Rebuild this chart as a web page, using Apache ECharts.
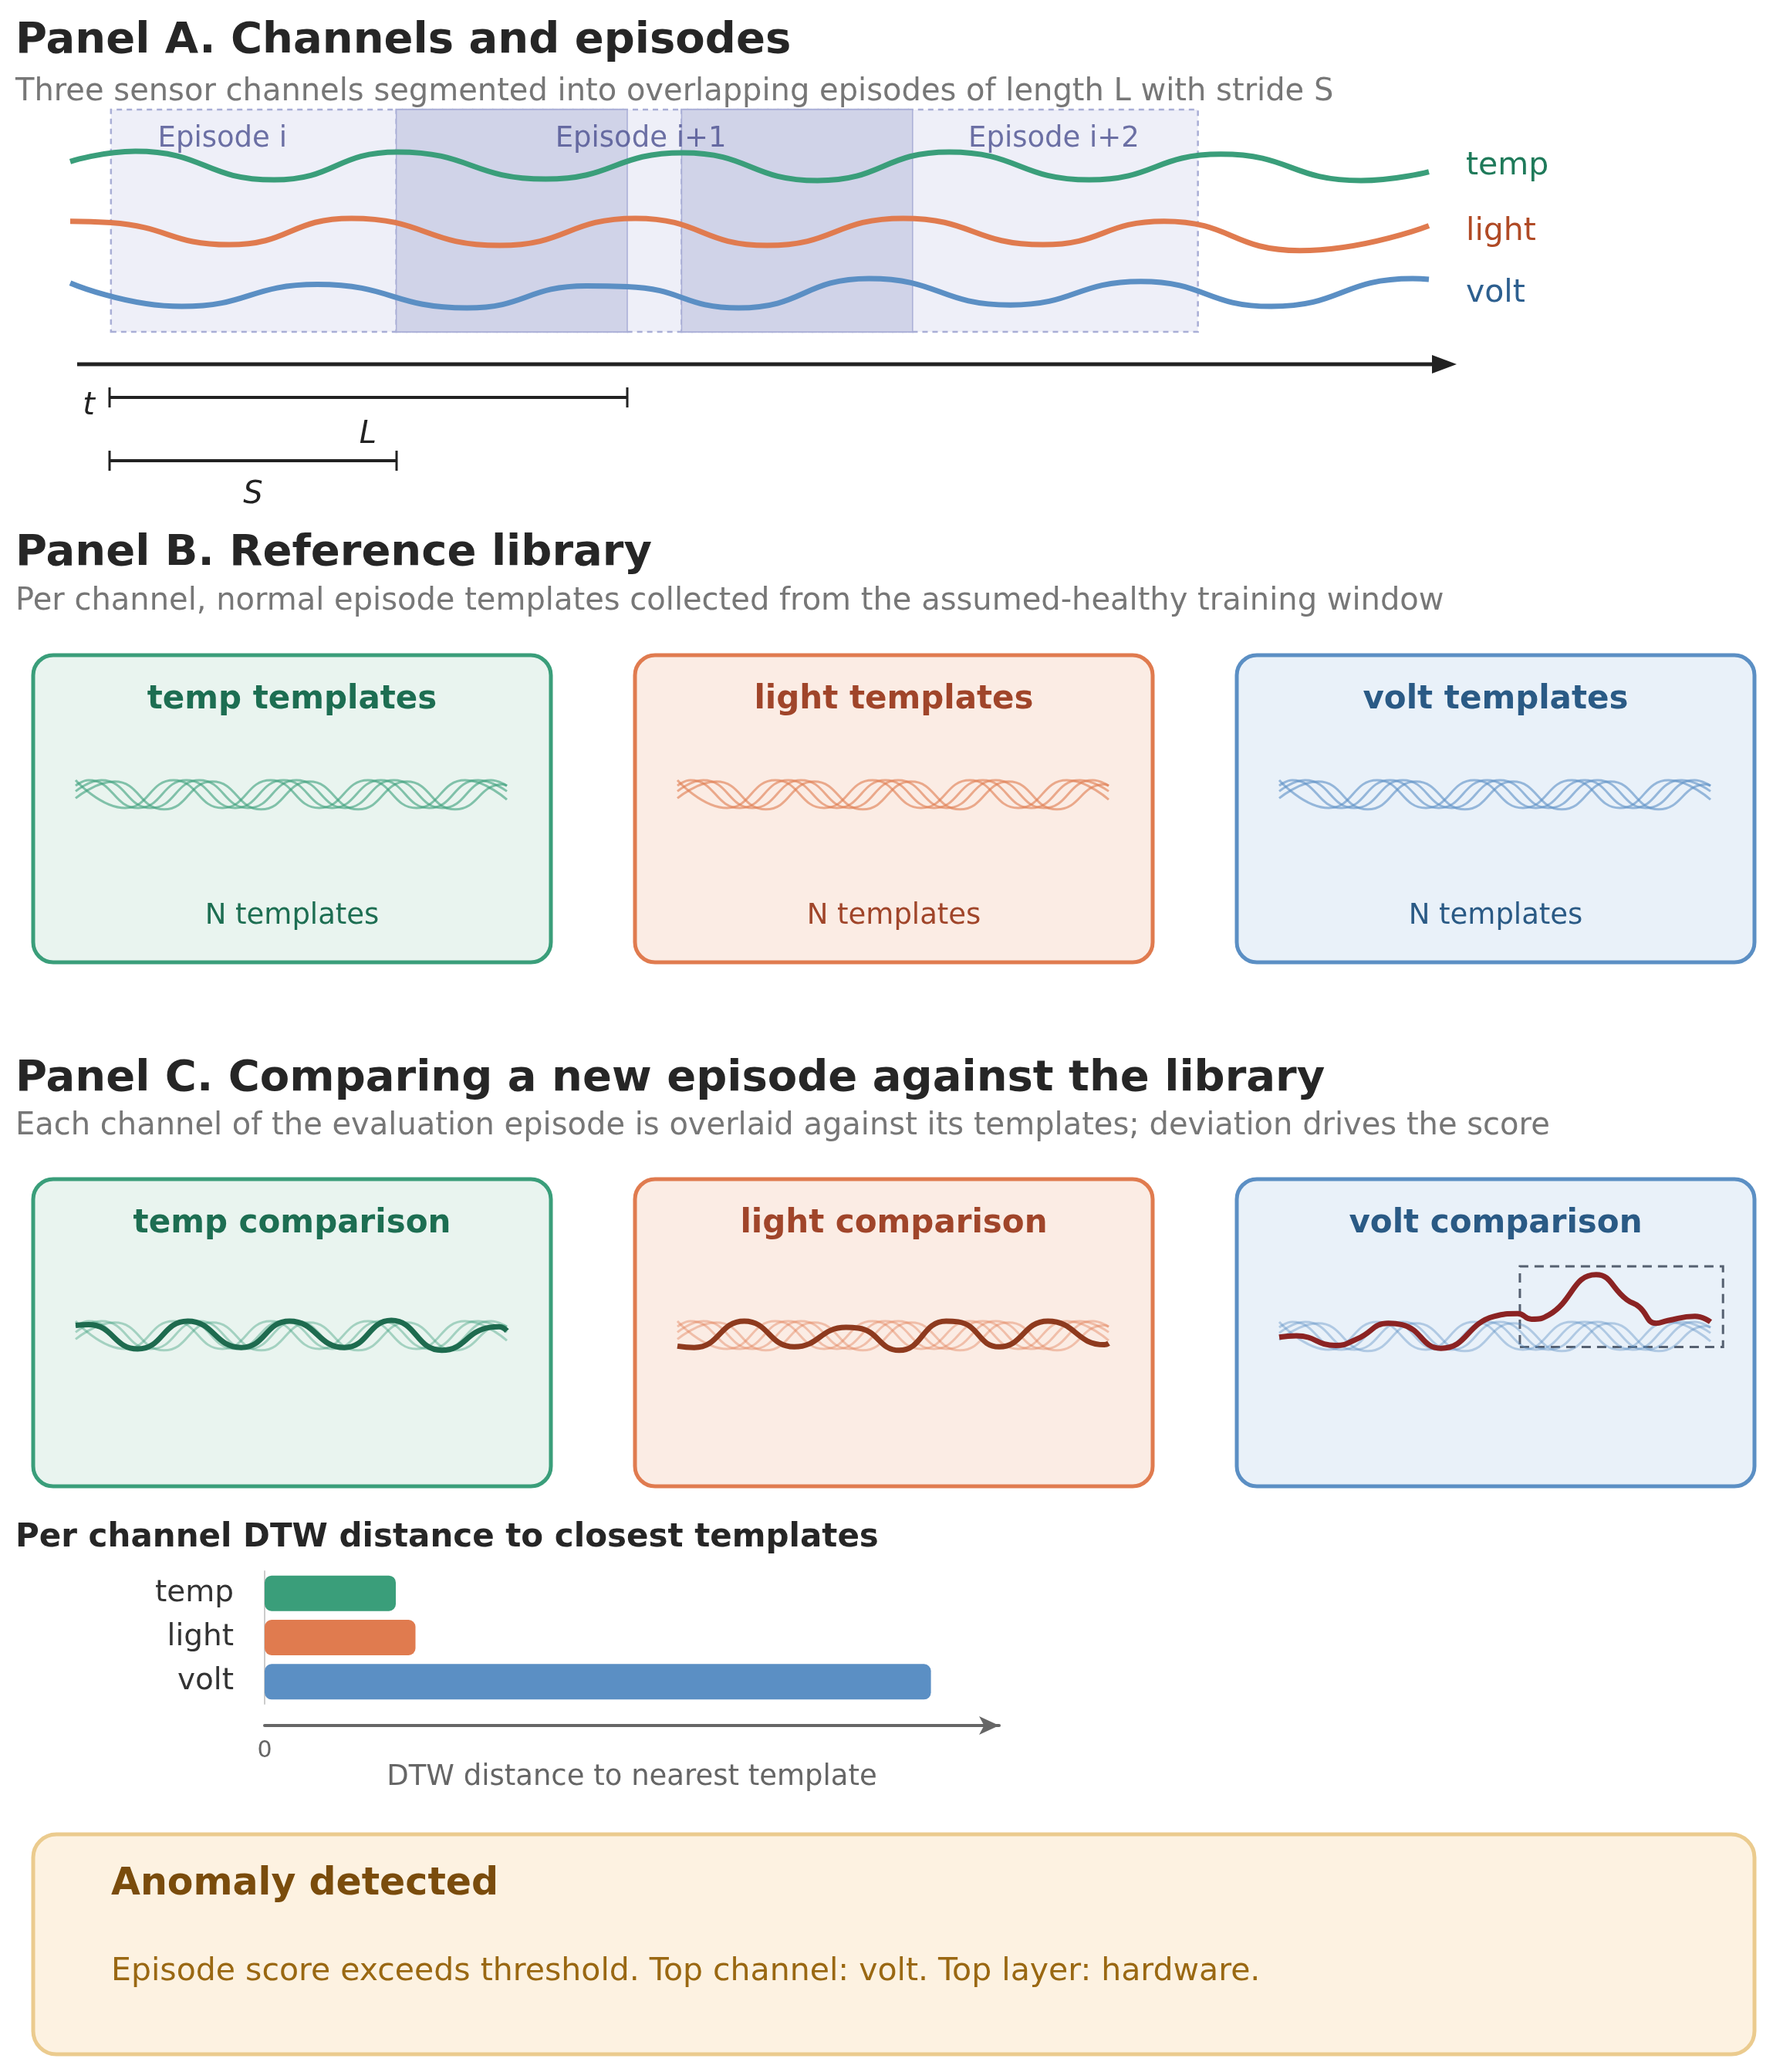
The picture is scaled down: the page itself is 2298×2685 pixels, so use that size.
<!DOCTYPE html>
<html>
<head>
<meta charset="utf-8">
<script src="https://cdn.jsdelivr.net/npm/echarts/dist/echarts.min.js"></script>
<style>
  html, body { margin: 0; padding: 0; background: #fff; }
  #main { width: 2298px; height: 2685px; }
</style>
</head>
<body>
<div id="main"></div>
<pre id="log" style="position:absolute;left:0;top:0;font-size:24px;color:red"></pre>
<script>
// ---- data ----
var channels = ['temp', 'light', 'volt'];
var lineColors = ['#3a9e7a', '#e07b4f', '#5b8fc4'];
var textColors = ['#1f7a5a', '#b04a25', '#2d5f8f'];
var titleColors = ['#1d6e52', '#a0452a', '#2a5a85'];
var boxFills = ['#e9f4ef', '#fbece4', '#e9f1f9'];
var compColors = ['#1e6b4f', '#8e3a1e', '#8b2323'];

// panel A: time 0..100
var tempA = [[0,0.3],[4.8,1.0],[15,-0.95],[24.1,0.95],[35,-0.9],[45.1,0.9],[55,-1.0],[64.7,0.95],[75,-0.95],[84.7,0.8],[95,-1.0],[100,-0.4]];
var lightA = [[0,0.7],[3,0.6],[11.7,-0.9],[20.7,0.9],[31.6,-0.95],[41.6,0.9],[51.3,-0.95],[61.3,0.9],[71.6,-0.9],[80.5,0.7],[90.5,-1.3],[100,0.4]];
var voltA = [[0,0.7],[8.2,-0.9],[18.2,0.6],[29.2,-1.0],[38,0.5],[41,0.45],[49.2,-1.0],[58.8,1.0],[69.2,-0.8],[78.8,0.8],[88.4,-0.9],[98.8,1.0],[100,0.95]];
var episodes = [[3, 41], [24, 62], [45, 83]];
var overlaps = [[24, 41], [45, 62]];
var episodeLabels = ['Episode i', 'Episode i+1', 'Episode i+2'];
var episodeLabelX = [11.2, 42, 72.4];

// reference library templates (same set per channel)
var template1 = [[0,0.6],[3,1],[14.5,-1],[25.7,1],[37,-1],[48.2,1],[59.5,-1],[70.8,1],[82,-1],[93.3,1],[100,0.2]];
var template2 = [[0,0.2],[6,1],[17.5,-1],[28.7,1],[40,-1],[51.2,1],[62.5,-1],[73.8,1],[85,-1],[96.3,1],[100,0.6]];
var template3 = [[0,1],[11.5,-1],[22.7,1],[34,-1],[45.2,1],[56.5,-1],[67.8,1],[79,-1],[90.3,1],[100,-0.4]];
var template4 = [[0,-0.3],[9,0.9],[20.5,-1.1],[31.7,0.9],[43,-1.1],[54.2,0.9],[65.5,-1.1],[76.8,0.9],[88,-1.1],[99,0.7],[100,0.6]];
var templates = [template1, template2, template3, template4];

// evaluation episode
var compTemp = [[0,0.7],[3,0.75],[14.4,-1],[26,1],[38.4,-0.9],[49.6,1],[62.3,-0.9],[73.2,1.05],[84.9,-1.1],[96,0.55],[98.2,0.6],[100,0.3]];
var compLight = [[0,-0.8],[3.9,-0.9],[15.5,1],[27.1,-0.85],[39.1,0.55],[41.9,0.5],[51.4,-1.1],[62.3,1],[65.1,0.95],[74.6,-0.85],[85.9,1],[99,-0.7],[100,-0.6]];
var compVolt = [[0,-0.1],[4,0],[13.1,-0.7],[18.2,-0.2],[25.3,0.9],[28.5,0.8],[37.5,-0.9],[49.8,1.4],[55.3,1.6],[58.5,1.2],[62.5,1.5],[73.5,4.4],[80.6,2.6],[83.4,2.1],[87.4,0.9],[90.1,1.1],[96.4,1.4],[100,1.0]];
var comps = [compTemp, compLight, compVolt];
var anomalyBox = [[55.8, -0.8], [102.9, 5.0]];

// DTW bars
var barCats = ['temp', 'light', 'volt'];
var barVals = [1.0, 1.15, 5.08];
var barMax = 5.6;

// ---- layout ----
var F = '"DejaVu Sans", sans-serif';
var boxLeft = [43, 823, 1603];
var boxW = 671;

var grids = [], xAxes = [], yAxes = [], series = [];
function addGrid(left, gtop, width, height, xmin, xmax, ymin, ymax) {
  grids.push({ left: left, top: gtop, width: width, height: height });
  var i = grids.length - 1;
  xAxes.push({ gridIndex: i, type: 'value', min: xmin, max: xmax, show: false });
  yAxes.push({ gridIndex: i, type: 'value', min: ymin, max: ymax, show: false });
  return i;
}
function copy(d) { return d.map(function (p) { return [p[0], p[1]]; }); }

// panel A episodes grid
var gEp = addGrid(91, 142, 1761, 288, 0, 100, 0, 1);
series.push({
  type: 'line', xAxisIndex: gEp, yAxisIndex: gEp, data: [], silent: true,
  markArea: {
    silent: true,
    itemStyle: { color: '#eeeff8', borderColor: '#a9aed6', borderWidth: 2.5, borderType: [7, 6] },
    data: episodes.map(function (e) { return [{ xAxis: e[0], yAxis: 0 }, { xAxis: e[1], yAxis: 1 }]; })
  }
});
series.push({
  type: 'line', xAxisIndex: gEp, yAxisIndex: gEp, data: [], silent: true,
  markArea: {
    silent: true,
    itemStyle: { color: '#d0d3e8', borderColor: '#a9aed6', borderWidth: 1.5 },
    data: overlaps.map(function (e) { return [{ xAxis: e[0], yAxis: 0 }, { xAxis: e[1], yAxis: 1 }]; })
  }
});
series.push({
  type: 'scatter', xAxisIndex: gEp, yAxisIndex: gEp, symbolSize: 0, silent: true,
  data: episodeLabels.map(function (n, i) { return { name: n, value: [episodeLabelX[i], 0.868] }; }),
  label: { show: true, position: 'inside', formatter: '{b}', color: '#4a4f8e', fontSize: 37, fontFamily: F }
});

// panel A channels
var chanA = [tempA, lightA, voltA];
var centersA = [215, 300, 380];
var uA = 19;
chanA.forEach(function (d, k) {
  var g = addGrid(91, centersA[k] - 2.2 * uA, 1761, 4.4 * uA, 0, 100, -2.2, 2.2);
  series.push({
    type: 'line', xAxisIndex: g, yAxisIndex: g, data: copy(d), smooth: true, symbol: 'none',
    lineStyle: { color: lineColors[k], width: 7 }, z: 5
  });
});

// panel B & C boxes
var uB = 18;
[0, 1, 2].forEach(function (k) {
  var gb = addGrid(boxLeft[k] + 55, 1029 - 2.2 * uB, 559, 4.4 * uB, 0, 100, -2.2, 2.2);
  templates.forEach(function (t) {
    series.push({ type: 'line', xAxisIndex: gb, yAxisIndex: gb, data: copy(t), smooth: true, symbol: 'none',
      lineStyle: { color: lineColors[k], width: 3, opacity: 0.6 }, z: 5 });
  });
  var gc = k === 2
    ? addGrid(boxLeft[k] + 55, 1731 - 5.2 * uB, 559 * 1.03, 7.4 * uB, 0, 103, -2.2, 5.2)
    : addGrid(boxLeft[k] + 55, 1730 - 2.2 * uB, 559, 4.4 * uB, 0, 100, -2.2, 2.2);
  templates.forEach(function (t) {
    series.push({ type: 'line', xAxisIndex: gc, yAxisIndex: gc, data: copy(t), smooth: true, symbol: 'none',
      lineStyle: { color: lineColors[k], width: 3, opacity: 0.4 }, z: 5 });
  });
  var s = { type: 'line', xAxisIndex: gc, yAxisIndex: gc, data: copy(comps[k]), smooth: true, symbol: 'none',
    lineStyle: { color: compColors[k], width: 7 }, z: 6 };
  if (k === 2) {
    s.markArea = {
      silent: true,
      itemStyle: { color: 'rgba(0,0,0,0)', borderColor: '#556070', borderWidth: 3, borderType: [12, 8] },
      data: [[{ coord: anomalyBox[0].slice() }, { coord: anomalyBox[1].slice() }]]
    };
  }
  series.push(s);
});

// DTW bar chart
grids.push({ left: 343, top: 2036, width: 952, height: 172 });
var gBar = grids.length - 1;
xAxes.push({
  gridIndex: gBar, type: 'value', min: 0, max: barMax, interval: barMax,
  axisLine: { show: true, onZero: false, symbol: ['none', 'arrow'], symbolSize: [18, 26], lineStyle: { color: '#666', width: 4 } },
  offset: 28, axisTick: { show: false }, splitLine: { show: false },
  axisLabel: { color: '#666', fontSize: 30, fontFamily: F, margin: 18, formatter: function (v) { return v === 0 ? '0' : ''; } },
  name: 'DTW distance to nearest template', nameLocation: 'middle', nameGap: 40,
  nameTextStyle: { color: '#666', fontSize: 37, fontFamily: F }
});
yAxes.push({
  gridIndex: gBar, type: 'category', data: barCats, inverse: true,
  axisLine: { show: true, lineStyle: { color: '#ccc', width: 2 } }, axisTick: { show: false },
  axisLabel: { color: '#333', fontSize: 39, fontFamily: F, margin: 40 }
});
series.push({
  type: 'bar', xAxisIndex: gBar, yAxisIndex: gBar, barWidth: 46,
  data: barVals.map(function (v, i) { return { value: v, itemStyle: { color: lineColors[i], borderRadius: 9 } }; })
});

// ---- static graphics ----
function txt(t, x, y, font, fill, align) {
  return { type: 'text', x: x, y: y, z: 10, style: { text: t, font: font, fill: fill, textAlign: align || 'left', textVerticalAlign: 'middle' } };
}
var gr = [];
gr.push(txt('Panel A. Channels and episodes', 20, 53, 'bold 56px ' + F, '#262626'));
gr.push(txt('Three sensor channels segmented into overlapping episodes of length L with stride S', 20, 120, '40px ' + F, '#777'));
channels.forEach(function (c, k) { gr.push(txt(c, 1900, centersA[k], '41px ' + F, textColors[k])); });
// time arrow and L / S spans
gr.push({ type: 'line', shape: { x1: 100, y1: 472, x2: 1860, y2: 472 }, style: { stroke: '#222', lineWidth: 5 } });
gr.push({ type: 'polygon', shape: { points: [[1888, 472], [1856, 460], [1856, 484]] }, style: { fill: '#222' } });
[[515, 142, 813], [597, 142, 514]].forEach(function (b) {
  gr.push({ type: 'line', shape: { x1: b[1], y1: b[0], x2: b[2], y2: b[0] }, style: { stroke: '#222', lineWidth: 4 } });
  gr.push({ type: 'line', shape: { x1: b[1], y1: b[0] - 13, x2: b[1], y2: b[0] + 13 }, style: { stroke: '#222', lineWidth: 3 } });
  gr.push({ type: 'line', shape: { x1: b[2], y1: b[0] - 13, x2: b[2], y2: b[0] + 13 }, style: { stroke: '#222', lineWidth: 3 } });
});
gr.push(txt('t', 115, 527, 'italic 40px ' + F, '#222', 'center'));
gr.push(txt('L', 477, 564, 'italic 40px ' + F, '#222', 'center'));
gr.push(txt('S', 328, 642, 'italic 40px ' + F, '#222', 'center'));

gr.push(txt('Panel B. Reference library', 20, 717, 'bold 56px ' + F, '#262626'));
gr.push(txt('Per channel, normal episode templates collected from the assumed-healthy training window', 20, 780, '40px ' + F, '#777'));
gr.push(txt('Panel C. Comparing a new episode against the library', 20, 1398, 'bold 56px ' + F, '#262626'));
gr.push(txt('Each channel of the evaluation episode is overlaid against its templates; deviation drives the score', 20, 1460, '40px ' + F, '#777'));

[0, 1, 2].forEach(function (b) {
  [[849, ' templates'], [1528, ' comparison']].forEach(function (p, j) {
    gr.push({ type: 'rect', z: -1, shape: { x: boxLeft[b], y: p[0], width: boxW, height: 398, r: 26 },
      style: { fill: boxFills[b], stroke: lineColors[b], lineWidth: 5 } });
    gr.push(txt(channels[b] + p[1], boxLeft[b] + boxW / 2, p[0] + 58, 'bold 42px ' + F, titleColors[b], 'center'));
    if (j === 0) gr.push(txt('N templates', boxLeft[b] + boxW / 2, 1187, '37px ' + F, titleColors[b], 'center'));
  });
});

gr.push(txt('Per channel DTW distance to closest templates', 20, 1993, 'bold 42px ' + F, '#262626'));
gr.push({ type: 'rect', z: -1, shape: { x: 43, y: 2377, width: 2231, height: 285, r: 30 },
  style: { fill: '#fdf2e1', stroke: '#ebcb8e', lineWidth: 5 } });
gr.push(txt('Anomaly detected', 144, 2442, 'bold 49px ' + F, '#7a4c0c'));
gr.push(txt('Episode score exceeds threshold. Top channel: volt. Top layer: hardware.', 144, 2555, '41px ' + F, '#9a6812'));

try {
  var chart = echarts.init(document.getElementById('main'));
  chart.setOption({
    backgroundColor: '#fff',
    animation: false,
    grid: grids,
    xAxis: xAxes,
    yAxis: yAxes,
    series: series,
    graphic: gr
  });
} catch (e) {
  document.getElementById('log').textContent = e.message + '\n' + (e.stack || '').slice(0, 1500);
}
</script>
</body>
</html>
